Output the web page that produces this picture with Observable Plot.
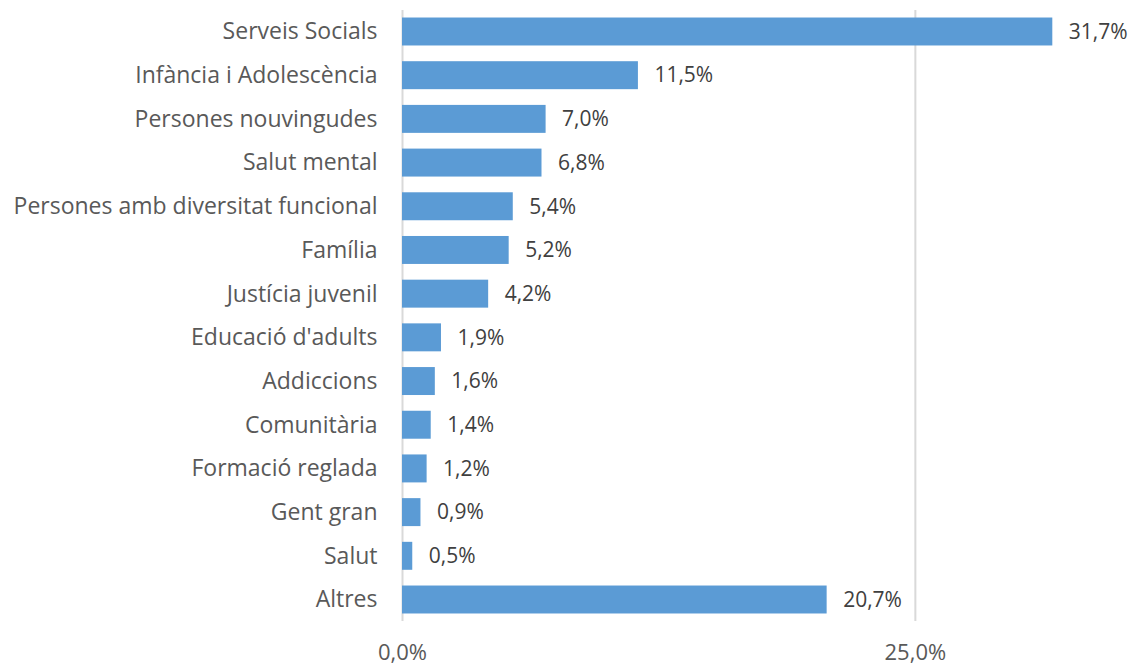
<!DOCTYPE html>
<html>
<head>
<meta charset="utf-8">
<script src="https://cdn.jsdelivr.net/npm/d3@7"></script>
<script src="https://cdn.jsdelivr.net/npm/@observablehq/plot@0.6"></script>
<style>
  html, body { margin: 0; padding: 0; background: #fff; }
  #chart svg { display: block; }
</style>
</head>
<body>
<div id="chart"></div>
<script>
const categories = [
  "Serveis Socials",
  "Infància i Adolescència",
  "Persones nouvingudes",
  "Salut mental",
  "Persones amb diversitat funcional",
  "Família",
  "Justícia juvenil",
  "Educació d'adults",
  "Addiccions",
  "Comunitària",
  "Formació reglada",
  "Gent gran",
  "Salut",
  "Altres"
];
const values = [31.7, 11.5, 7.0, 6.8, 5.4, 5.2, 4.2, 1.9, 1.6, 1.4, 1.2, 0.9, 0.5, 20.7];
const xTicks = [0, 25];

const data = categories.map((c, i) => ({category: c, value: values[i]}));
const fmt = v => v.toFixed(1).replace(".", ",") + "%";

const chart = Plot.plot({
  width: 1136,
  height: 668,
  marginLeft: 402,
  marginRight: 16,
  marginTop: 10,
  marginBottom: 47,
  style: {fontFamily: "'Open Sans', sans-serif", fontSize: "21px", color: "#595959", background: "#fff"},
  x: {domain: [0, 35]},
  y: {domain: categories, paddingInner: 0.36, paddingOuter: 0.172, round: false},
  marks: [
    Plot.ruleX(xTicks, {stroke: "#d9d9d9", strokeWidth: 2}),
    Plot.barX(data, {x: "value", y: "category", fill: "#5b9bd5"}),
    Plot.text(data, {x: "value", y: "category", text: d => fmt(d.value), dx: 16, textAnchor: "start", fill: "#404040", fontSize: 21}),
    Plot.axisY({tickSize: 0, tickPadding: 25, label: null, fill: "#595959", fontSize: 23}),
    Plot.axisX({ticks: xTicks, tickSize: 0, tickPadding: 23, tickFormat: fmt, label: null, fill: "#595959", fontSize: 22})
  ]
});
document.getElementById("chart").appendChild(chart);
</script>
</body>
</html>
